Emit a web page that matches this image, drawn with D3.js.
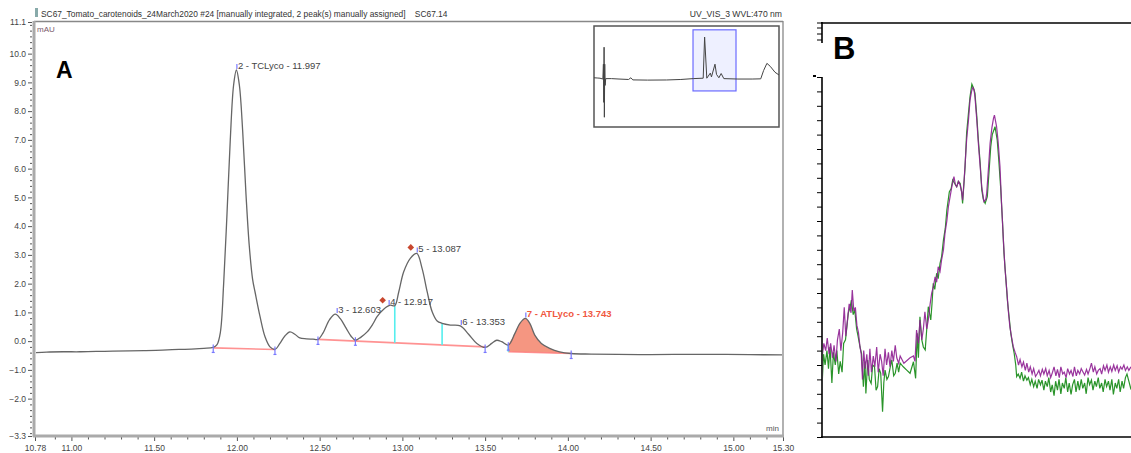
<!DOCTYPE html>
<html>
<head>
<meta charset="utf-8">
<script src="https://cdn.jsdelivr.net/npm/d3@7"></script>
<style>
  body { margin: 0; background: #fff; }
  svg { display: block; font-family: "Liberation Sans", Arial, sans-serif; }
</style>
</head>
<body>
<svg id="chart" width="1131" height="453"></svg>
<script>
// ---------- Panel A : chromatogram (time in min, signal in mAU) ----------
const chromT = [10.78, 10.85, 10.95, 11.05, 11.15, 11.25, 11.35, 11.45, 11.55, 11.65, 11.75, 11.80, 11.857, 11.88,
  11.90, 11.92, 11.94, 11.96, 11.98, 11.997, 12.015, 12.035, 12.055, 12.075, 12.095, 12.11, 12.14, 12.17, 12.20, 12.23,
  12.26, 12.29, 12.32, 12.35, 12.38, 12.42, 12.46, 12.49, 12.52, 12.56, 12.595, 12.625, 12.66, 12.69, 12.716,
  12.75, 12.787, 12.82, 12.847, 12.887, 12.927, 12.954, 12.978, 13.008, 13.048, 13.087, 13.119, 13.15, 13.18,
  13.21, 13.24, 13.29, 13.35, 13.40, 13.45, 13.50, 13.54, 13.57, 13.60, 13.64, 13.68, 13.71, 13.743, 13.77,
  13.80, 13.84, 13.89, 13.95, 14.02, 14.14, 14.30, 14.50, 14.70, 14.90, 15.10, 15.30];
const chromV = [-0.40, -0.38, -0.37, -0.37, -0.36, -0.35, -0.34, -0.33, -0.31, -0.29, -0.27, -0.25, -0.22, -0.12,
  0.30, 2.0, 4.4, 7.0, 8.9, 9.43, 8.9, 7.3, 5.1, 3.3, 2.15, 1.7, 0.85, 0.15, -0.20, -0.29,
  -0.08, 0.18, 0.32, 0.24, 0.11, 0.08, 0.07, 0.06, 0.28, 0.75, 0.94, 0.78, 0.45, 0.17, 0.03,
  0.14, 0.32, 0.58, 0.85, 1.11, 1.25, 1.23, 1.71, 2.41, 2.88, 3.05, 2.53, 1.71, 1.02,
  0.70, 0.62, 0.56, 0.53, 0.24, -0.08, -0.22, -0.08, 0.03, -0.02, -0.14, 0.27, 0.62, 0.79, 0.62,
  0.21, -0.08, -0.25, -0.37, -0.43, -0.45, -0.46, -0.47, -0.46, -0.46, -0.47, -0.48];

// peak labels (apex time / apex height)
const peakNames = ['2 - TCLyco - 11.997', '3 - 12.603', '4 - 12.917', '5 - 13.087', '6 - 13.353', '7 - ATLyco - 13.743'];
const peakRT = [11.997, 12.603, 12.917, 13.087, 13.353, 13.743];
const peakTop = [9.43, 0.94, 1.22, 3.05, 0.53, 0.79];
const manualPeaks = [12.917, 13.087];

// integration baselines [t, v] start / end
const baseStart = [[11.857, -0.235], [12.49, 0.06], [13.64, -0.37]];
const baseEnd = [[12.23, -0.29], [13.50, -0.20], [14.02, -0.43]];
const dropTimes = [12.954, 13.24];
const delimTimes = [11.857, 12.23, 12.49, 12.716, 13.50, 13.64, 14.02];

// axes
const yMajor = [11.1, 10, 9, 8, 7, 6, 5, 4, 3, 2, 1, 0, -1, -2, -3.3];
const xMajor = [10.78, 11.0, 11.5, 12.0, 12.5, 13.0, 13.5, 14.0, 14.5, 15.0, 15.3];

// overview inset trace (whole run)
const insetT = [0.37, 0.7, 1.0, 1.3, 1.36, 1.40, 1.43, 1.46, 1.50, 1.54, 1.6, 2.2, 3.0, 4.0, 4.25, 4.45, 6.0, 8.0, 9.5,
  10.8, 11.85, 12.0, 12.23, 12.6, 12.72, 13.09, 13.25, 13.5, 13.74, 14.02, 15.5, 17.0, 17.9, 18.2, 18.55, 18.9, 19.4, 19.82];
const insetV = [-0.2, -0.25, -0.3, -0.5, 3, -6, 7.0, -9.5, 3, -2, -0.4, -0.4, -0.5, -0.6, -0.2, -0.7, -0.75, -0.72, -0.6,
  -0.4, -0.3, 9.4, -0.3, 0.9, 0.0, 3.0, 0.6, -0.2, 0.8, -0.4, -0.5, -0.5, -0.45, 1.5, 3.2, 2.5, 1.1, 0.45];

// ---------- Panel B : two overlaid traces ----------
const purpleTrace = [[0, 22], [0.6, 26], [1.2, 24], [1.7, 27.5], [2.3, 23], [2.8, 26], [3.4, 22], [3.9, 25.5], [4.5, 21], [5.0, 27],
  [5.6, 30], [6.1, 24], [6.7, 29], [7.2, 36], [7.7, 28], [8.3, 33], [8.8, 37], [9.4, 34.5], [9.8, 40.8], [10.3, 35], [10.8, 36],
  [11.3, 31], [11.8, 29], [12.3, 25], [12.7, 23], [13.1, 16], [13.5, 24], [14.0, 19], [14.5, 23], [15.0, 17], [15.5, 24.5],
  [16.0, 18], [16.6, 22.5], [17.1, 19.5], [17.7, 25], [18.2, 18], [18.8, 23], [19.3, 21], [19.8, 17], [20.4, 24.5], [20.9, 20],
  [21.5, 23.5], [22.0, 19.5], [22.6, 24], [23.1, 21], [23.7, 25.5], [24.2, 22], [24.8, 20.5], [25.3, 22.5], [26.5, 20.5],
  [28.5, 22], [29.6, 22.5], [30.1, 21], [30.6, 29.7], [31.2, 26], [31.7, 32.5], [32.3, 27], [32.8, 30], [33.3, 34.8], [33.9, 30],
  [34.4, 32.5], [35.0, 37], [35.5, 40], [36.1, 42], [36.6, 44.5], [37.1, 43], [37.6, 47.3], [38.2, 46], [38.7, 49.2], [39.3, 52],
  [39.8, 56.6], [40.4, 60], [40.9, 64], [41.5, 67], [42.0, 69.5], [42.7, 72.3], [43.2, 70], [43.6, 69.5], [44.2, 71], [44.7, 70],
  [45.2, 68], [45.5, 65.8], [46.0, 71.4], [46.4, 77], [46.8, 82.5], [47.4, 88], [47.9, 93.6], [48.4, 96], [48.8, 97.1], [49.2, 96.5],
  [49.5, 94.5], [50.1, 88], [50.6, 81.6], [51.2, 75], [51.7, 69.5], [52.4, 65.4], [53.0, 66], [53.3, 67.7], [53.9, 75], [54.4, 81.6],
  [55.0, 86], [55.5, 88.5], [55.8, 89.4], [56.5, 86.2], [57.0, 82], [57.6, 75.1], [58.1, 65], [58.7, 54.7], [59.2, 47], [59.8, 40.8],
  [60.3, 35], [60.8, 30.6], [61.4, 27.5], [61.9, 25.1], [62.5, 23.5], [63.0, 22.3], [63.6, 20], [64.1, 21.5], [64.7, 19.5], [65.2, 20.8],
  [65.8, 18.5], [66.3, 20.5], [66.9, 18], [67.4, 19.5], [68.0, 17.5], [68.5, 19], [69.1, 16.8], [69.6, 17.5], [70.2, 18.5], [70.7, 17],
  [71.3, 18.8], [71.8, 17.5], [72.4, 19], [72.9, 17], [73.5, 18.5], [74.0, 16.5], [74.6, 18], [75.1, 19.5], [75.7, 17], [76.2, 18.8],
  [76.8, 16.5], [77.3, 19.5], [77.9, 17.5], [78.4, 18], [79.0, 16.5], [79.5, 19], [80.1, 17.5], [80.6, 18.5], [81.2, 16.8], [81.7, 19.5],
  [82.3, 17], [82.8, 18.5], [83.4, 17.5], [83.9, 19], [84.5, 18], [85.0, 17.2], [85.6, 18.8], [86.1, 17.5], [86.7, 19], [87.2, 20.5],
  [87.8, 18], [88.3, 19.5], [88.9, 17.5], [89.4, 18.5], [90.0, 19], [90.5, 17.5], [91.1, 19.8], [91.6, 18.5], [92.2, 20], [92.7, 18],
  [93.3, 19.5], [93.8, 18.2], [94.4, 20], [94.9, 18.5], [95.5, 19.8], [96.0, 18], [96.6, 19.5], [97.1, 18.8], [97.7, 20], [98.2, 18.5],
  [98.8, 19.5], [99.3, 18.5], [100, 19.5]];
const greenTrace = [[0, 14], [0.5, 23], [1.0, 20], [1.6, 24], [2.1, 19], [2.6, 25], [3.2, 15], [3.7, 23.5], [4.3, 20], [4.8, 24],
  [5.4, 17.5], [5.9, 21], [6.5, 18], [7.0, 26], [7.6, 27], [8.1, 31], [8.5, 34.4], [9.1, 36], [9.5, 38], [10.1, 34], [10.6, 35.3],
  [11.2, 30], [11.7, 27.9], [12.3, 25], [12.8, 23.2], [13.4, 14], [13.9, 21], [14.2, 12.1], [14.8, 21.4], [15.3, 16], [15.9, 14.9],
  [16.4, 20], [17.0, 19.5], [17.5, 13], [18.0, 14], [18.5, 19], [19.0, 17.7], [19.6, 7], [20.0, 15], [20.4, 18.6], [21.0, 16],
  [21.5, 16.8], [22.1, 19.5], [22.6, 21.4], [23.2, 17], [23.7, 17.7], [24.3, 20.5], [24.8, 18], [25.3, 20.5], [26.3, 19.5], [27.5, 18.5],
  [28.5, 17.7], [29.6, 20.9], [30.3, 16.3], [30.8, 28.8], [31.2, 22], [31.7, 33.4], [32.3, 27], [32.8, 25], [33.4, 24.2], [33.9, 30],
  [34.4, 36.2], [35.2, 32.5], [35.6, 37], [36.0, 42.7], [36.5, 41], [37.1, 45.5], [37.6, 44], [38.2, 48.2], [38.7, 50], [39.3, 54.7],
  [39.9, 58], [40.4, 63], [41.2, 68.1], [41.8, 69], [42.3, 71.4], [42.9, 70.5], [43.6, 69.5], [44.1, 71], [44.7, 70.5], [45.2, 68],
  [45.5, 64.9], [46.3, 75], [46.8, 84.4], [47.4, 90], [47.9, 94.5], [48.5, 98], [49.0, 97], [49.5, 95.5], [50.1, 89], [50.6, 82.5],
  [51.2, 76], [51.7, 68.6], [52.2, 66], [52.8, 64.9], [53.5, 66.8], [54.0, 73], [54.6, 80.6], [55.1, 84], [56.0, 86.2], [56.7, 82.5],
  [57.2, 77], [57.8, 69.5], [58.4, 60], [58.9, 51], [59.5, 44], [60.0, 38], [60.6, 33], [61.1, 28.8], [61.7, 25.5], [62.2, 23.2],
  [62.7, 20], [63.0, 16.8], [63.5, 17.5], [64.1, 16.3], [64.6, 18], [65.2, 15.5], [65.7, 17], [66.3, 15.8], [66.8, 16.5], [67.4, 14.5],
  [67.9, 16], [68.5, 14], [69.0, 15.5], [69.6, 13.5], [70.1, 16], [70.7, 14.5], [71.2, 15.8], [71.8, 13], [72.3, 15.5], [72.9, 14],
  [73.4, 16.5], [74.0, 12.5], [74.5, 14.5], [75.1, 11.5], [75.6, 15.5], [76.2, 13], [76.7, 16], [77.3, 12], [77.8, 15], [78.4, 13.5],
  [78.9, 16.5], [79.5, 12.5], [80.0, 15], [80.6, 11.8], [81.1, 14.5], [81.7, 16], [82.2, 12.5], [82.8, 15.5], [83.3, 13], [83.9, 16],
  [84.4, 13.5], [85.0, 15], [85.5, 12], [86.1, 16.5], [86.6, 14.5], [87.2, 15.8], [87.7, 13], [88.3, 15.5], [88.8, 14], [89.4, 16.5],
  [89.9, 13.5], [90.5, 15], [91.0, 12.5], [91.6, 16], [92.1, 14], [92.7, 15.5], [93.2, 13], [93.8, 16], [94.3, 11.8], [94.9, 15],
  [95.4, 13.5], [96.0, 16], [96.5, 12.5], [97.1, 15.5], [97.6, 13.5], [98.2, 16.5], [98.7, 17.5], [99.3, 15.5], [100, 13.2]];

const svg = d3.select('#chart');
const chrom = chromT.map((t, i) => ({ t: t, v: chromV[i] }));

// scales for panel A
const x = d3.scaleLinear().domain([10.78, 15.30]).range([35, 783]);
const y = d3.scaleLinear().domain([-3.3, 11.1]).range([436, 22]);

// linear lookup of the trace (used only to place markers on it)
const valAt = t => {
  const i = d3.bisector(d => d.t).left(chrom, t);
  if (i <= 0) return chrom[0].v;
  const a = chrom[i - 1], b = chrom[i];
  return a.v + (b.v - a.v) * (t - a.t) / (b.t - a.t);
};
const baseAt = (k, t) => {
  const s = baseStart[k], e = baseEnd[k];
  return s[1] + (e[1] - s[1]) * (t - s[0]) / (e[0] - s[0]);
};

// header texts (one line, run name + sample id)
svg.append('rect').attr('x', 35).attr('y', 8).attr('width', 3).attr('height', 9).attr('fill', '#8aa');
svg.append('text').attr('x', 41).attr('y', 17).attr('font-size', '8.4px').attr('fill', '#333')
  .attr('xml:space', 'preserve')
  .text('SC67_Tomato_carotenoids_24March2020 #24 [manually integrated, 2 peak(s) manually assigned]    SC67.14');
svg.append('text').attr('x', 782).attr('y', 17).attr('font-size', '8.6px').attr('fill', '#333')
  .attr('text-anchor', 'end').text('UV_VIS_3 WVL:470 nm');

// frame top / right
svg.append('line').attr('x1', 34).attr('x2', 783).attr('y1', 21.5).attr('y2', 21.5).attr('stroke', '#888').attr('stroke-width', 1.3);
svg.append('line').attr('x1', 783).attr('x2', 783).attr('y1', 21).attr('y2', 436).attr('stroke', '#888').attr('stroke-width', 1.3);

// y axis (major + minor ticks)
const yMinor = d3.range(-3.2, 11.05, 0.2).filter(v => !yMajor.some(m => Math.abs(m - v) < 0.05));
svg.append('g').attr('transform', 'translate(32,0)')
  .call(d3.axisLeft(y).tickValues(yMinor).tickSize(2).tickFormat(''))
  .call(g => g.select('.domain').remove())
  .call(g => g.selectAll('line').attr('stroke', '#555'));
svg.append('g').attr('transform', 'translate(32,0)')
  .call(d3.axisLeft(y).tickValues(yMajor).tickSize(4).tickPadding(2).tickFormat(d3.format('.1f')))
  .call(g => g.select('.domain').remove())
  .call(g => g.selectAll('line').attr('stroke', '#555'))
  .call(g => g.selectAll('text').attr('font-size', '8.5px').attr('fill', '#444').attr('font-family', 'Liberation Sans, Arial'));
svg.append('line').attr('x1', 34).attr('x2', 34).attr('y1', 21).attr('y2', 437).attr('stroke', '#aaa').attr('stroke-width', 3);

// x axis
const xMinor = d3.range(10.8, 15.3, 0.1).filter(v => !xMajor.some(m => Math.abs(m - v) < 0.03));
svg.append('g').attr('transform', 'translate(0,437)')
  .call(d3.axisBottom(x).tickValues(xMinor).tickSize(2.5).tickFormat(''))
  .call(g => g.select('.domain').remove())
  .call(g => g.selectAll('line').attr('stroke', '#555'));
svg.append('g').attr('transform', 'translate(0,437)')
  .call(d3.axisBottom(x).tickValues(xMajor).tickSize(4).tickPadding(4).tickFormat(d3.format('.2f')))
  .call(g => g.select('.domain').remove())
  .call(g => g.selectAll('line').attr('stroke', '#555'))
  .call(g => g.selectAll('text').attr('font-size', '8.5px').attr('fill', '#444').attr('font-family', 'Liberation Sans, Arial'));
svg.append('line').attr('x1', 33).attr('x2', 784).attr('y1', 436).attr('y2', 436).attr('stroke', '#aaa').attr('stroke-width', 3);

svg.append('text').attr('x', 37).attr('y', 32).attr('font-size', '8px').attr('fill', '#7a5a6a').text('mAU');
svg.append('text').attr('x', 766).attr('y', 431).attr('font-size', '8px').attr('fill', '#555').text('min');
svg.append('text').attr('x', 56).attr('y', 78).attr('font-size', '23px').attr('font-weight', 'bold').attr('fill', '#000').text('A');

// plot area clip
svg.append('clipPath').attr('id', 'plotClip').append('rect')
  .attr('x', 36).attr('y', 22).attr('width', 746).attr('height', 413);
const plot = svg.append('g').attr('clip-path', 'url(#plotClip)');

const curve = d3.curveCatmullRom.alpha(0.5);

// peak 7 filled area
const k7 = 2;
const p7 = chrom.filter(d => d.t >= baseStart[k7][0] - 1e-6 && d.t <= baseEnd[k7][0] + 1e-6);
plot.append('path').datum(p7)
  .attr('fill', '#f4907a').attr('opacity', 0.95)
  .attr('d', d3.area().curve(curve).x(d => x(d.t)).y0(d => y(baseAt(k7, d.t))).y1(d => y(d.v)));

// baselines
plot.selectAll('.base').data(baseStart).join('line').attr('class', 'base')
  .attr('x1', d => x(d[0])).attr('y1', d => y(d[1]))
  .attr('x2', (d, i) => x(baseEnd[i][0])).attr('y2', (d, i) => y(baseEnd[i][1]))
  .attr('stroke', '#ff8080').attr('stroke-width', 1.6).attr('opacity', 0.85);

// drop lines (cyan)
plot.selectAll('.drop').data(dropTimes).join('line').attr('class', 'drop')
  .attr('x1', d => x(d)).attr('x2', d => x(d))
  .attr('y1', d => y(valAt(d))).attr('y2', d => y(baseAt(1, d)))
  .attr('stroke', '#55eeee').attr('stroke-width', 1.6);
plot.append('line')
  .attr('x1', x(baseStart[2][0])).attr('x2', x(baseStart[2][0]))
  .attr('y1', y(valAt(baseStart[2][0]))).attr('y2', y(baseStart[2][1]))
  .attr('stroke', '#55eeee').attr('stroke-width', 1.6);

// chromatogram trace
plot.append('path').datum(chrom)
  .attr('fill', 'none').attr('stroke', '#666').attr('stroke-width', 1.3)
  .attr('d', d3.line().curve(curve).x(d => x(d.t)).y(d => y(d.v)));

// peak delimiters
const delim = plot.selectAll('.delim').data(delimTimes).join('g').attr('class', 'delim')
  .attr('transform', d => `translate(${x(d)},${y(valAt(d))})`);
delim.append('line').attr('y1', -3).attr('y2', 5).attr('stroke', '#7878ff').attr('stroke-width', 1.2);
delim.append('line').attr('x1', -1.5).attr('x2', 1.5).attr('y1', 5).attr('y2', 5).attr('stroke', '#7878ff').attr('stroke-width', 1.2);

// manually assigned peak pins
plot.selectAll('.pin').data(manualPeaks).join('path').attr('class', 'pin')
  .attr('transform', d => `translate(${x(d) - 6},${y(valAt(d)) - 6}) rotate(45)`)
  .attr('d', d3.symbol(d3.symbolSquare, 22))
  .attr('fill', '#c8472e');

// peak labels
const lab = plot.selectAll('.plab').data(peakRT).join('g').attr('class', 'plab')
  .attr('transform', (d, i) => `translate(${x(d)},${y(peakTop[i])})`);
lab.append('line').attr('x1', 0.5).attr('x2', 0.5).attr('y1', -6).attr('y2', -1)
  .attr('stroke', '#7878ff').attr('stroke-width', 1.2);
lab.append('text').attr('x', 1.5).attr('y', -1)
  .attr('font-size', '9.5px')
  .attr('fill', (d, i) => i === 5 ? '#f0583f' : '#444')
  .attr('font-weight', (d, i) => i === 5 ? 'bold' : 'normal')
  .text((d, i) => peakNames[i]);

// ---------- inset overview ----------
const ix = d3.scaleLinear().domain([0.37, 19.82]).range([594, 779]);
const iy = d3.scaleLinear().domain([-11.8, 12.0]).range([127, 26]);
svg.append('rect').attr('x', 594).attr('y', 26).attr('width', 185).attr('height', 101)
  .attr('fill', '#fff').attr('stroke', '#555').attr('stroke-width', 1.5);
svg.append('rect').attr('x', ix(10.78)).attr('y', iy(11.1))
  .attr('width', ix(15.30) - ix(10.78)).attr('height', iy(-3.3) - iy(11.1))
  .attr('fill', '#eef0ff').attr('stroke', '#6b6bff').attr('stroke-width', 1.2);
svg.append('path').datum(insetT.map((t, i) => [t, insetV[i]]))
  .attr('fill', 'none').attr('stroke', '#444').attr('stroke-width', 1)
  .attr('d', d3.line().x(d => ix(d[0])).y(d => iy(d[1])));

// ---------- Panel B ----------
const bx = d3.scaleLinear().domain([0, 100]).range([822, 1131]);
const by = d3.scaleLinear().domain([0, 100]).range([437, 77]);

svg.append('clipPath').attr('id', 'bClip').append('rect')
  .attr('x', 823).attr('y', 60).attr('width', 310).attr('height', 376);
const bplot = svg.append('g').attr('clip-path', 'url(#bClip)');
const bline = d3.line().x(d => bx(d[0])).y(d => by(d[1]));
bplot.append('path').datum(greenTrace)
  .attr('fill', 'none').attr('stroke', '#2a942a').attr('stroke-width', 1.2).attr('d', bline);
bplot.append('path').datum(purpleTrace)
  .attr('fill', 'none').attr('stroke', '#8e1f92').attr('stroke-width', 1.2).attr('opacity', 0.9).attr('d', bline);

// B axes
svg.append('g').attr('transform', 'translate(822,0)')
  .call(d3.axisLeft(by).tickValues(d3.range(0, 101, 4)).tickSize(5).tickFormat(''))
  .call(g => g.select('.domain').remove())
  .call(g => g.selectAll('line').attr('stroke', '#000'));
svg.append('line').attr('x1', 822).attr('x2', 822).attr('y1', 77).attr('y2', 438).attr('stroke', '#000').attr('stroke-width', 1.6);
svg.append('line').attr('x1', 821).attr('x2', 1131).attr('y1', 437).attr('y2', 437).attr('stroke', '#000').attr('stroke-width', 1.6);
svg.append('rect').attr('x', 813).attr('y', 75).attr('width', 3).attr('height', 2).attr('fill', '#000');

// top fragment of the B frame
svg.append('line').attr('x1', 822).attr('x2', 822).attr('y1', 22).attr('y2', 43).attr('stroke', '#000').attr('stroke-width', 1.6);
svg.append('line').attr('x1', 821).attr('x2', 1131).attr('y1', 23).attr('y2', 23).attr('stroke', '#000').attr('stroke-width', 1.3);
svg.append('g').selectAll('line').data([23, 28, 34, 40]).join('line')
  .attr('x1', 817).attr('x2', 822).attr('y1', d => d).attr('y2', d => d).attr('stroke', '#000');

svg.append('text').attr('x', 833).attr('y', 59).attr('font-size', '31px').attr('font-weight', 'bold').attr('fill', '#000').text('B');
</script>
</body>
</html>
